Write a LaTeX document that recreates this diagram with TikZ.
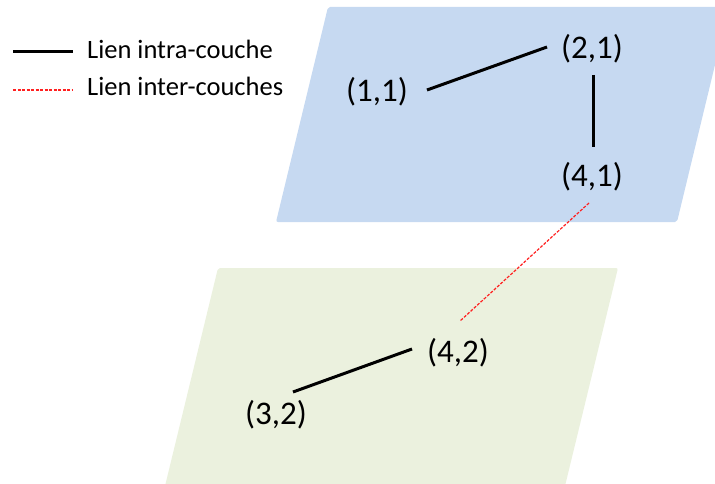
\documentclass[tikz,border=0pt]{standalone}
\usepackage{fontspec}
\setmainfont{Carlito}
\definecolor{layerblue}{HTML}{C6D9F1}
\definecolor{layergreen}{HTML}{EBF1DE}
\definecolor{linkred}{HTML}{FF2020}
\begin{document}
\begin{tikzpicture}[x=1pt,y=-1pt,
  lbl/.style={font=\fontsize{33}{38}\selectfont, inner sep=0pt},
  legtext/.style={font=\fontsize{26.5}{30}\selectfont, inner sep=0pt, anchor=west},
  intra/.style={line width=3pt, black},
  inter/.style={line width=1.2pt, linkred, dash pattern=on 3pt off 1.5pt},
  layer/.style={rounded corners=2pt}]
\useasboundingbox (0,0) rectangle (715,484);
\clip (0,0) rectangle (715,484);
% layers
\fill[layerblue, layer] (328,7) -- (729,7) -- (677,222) -- (276,222) -- cycle;
\fill[layergreen, layer] (218,268) -- (618,268) -- (565,486) -- (165,486) -- cycle;
% labels
\node[lbl] (n11) at (377,92) {(1,1)};
\node[lbl] (n21) at (592,49) {(2,1)};
\node[lbl] (n41) at (592,177) {(4,1)};
\node[lbl] (n42) at (458,353) {(4,2)};
\node[lbl] (n32) at (276,415) {(3,2)};
% links
\draw[intra] ([shift={(50,-2)}]n11.center) -- ([shift={(-45,-2)}]n21.center);
\draw[intra] ([shift={(1,26)}]n21.center) -- ([shift={(1,-30)}]n41.center);
\draw[intra] ([shift={(17,-23)}]n32.center) -- ([shift={(-46,-4)}]n42.center);
\draw[inter] ([shift={(-3,26)}]n41.center) -- ([shift={(2,-32)}]n42.center);
% legend
\node[legtext] (leg1) at (87,49) {Lien intra-couche};
\node[legtext] (leg2) at (87,86) {Lien inter-couches};
\draw[intra] ([shift={(-74,3)}]leg1.west) -- ([shift={(-14,3)}]leg1.west);
\draw[inter] ([shift={(-74,4)}]leg2.west) -- ([shift={(-14,4)}]leg2.west);
\end{tikzpicture}
\end{document}
